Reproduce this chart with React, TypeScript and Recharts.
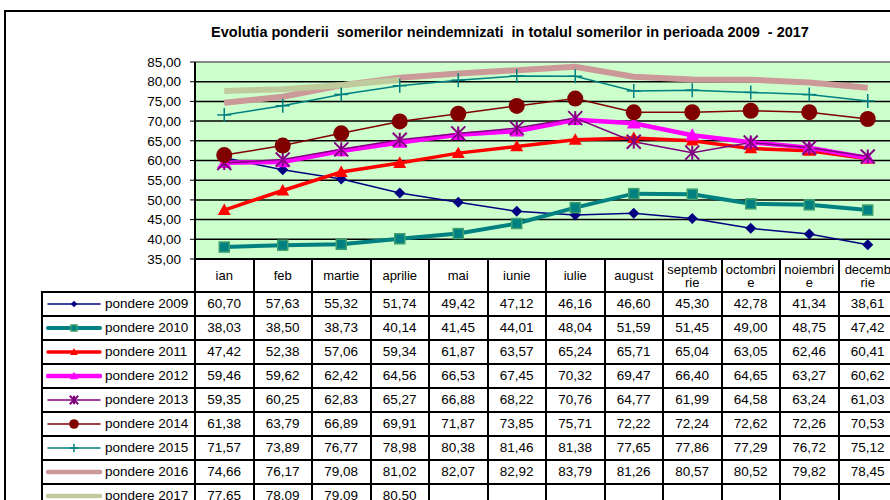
import React from 'react'
import { LineChart, Line, XAxis, YAxis, CartesianGrid, ReferenceLine } from 'recharts'

const months = ['ian', 'feb', 'martie', 'aprilie', 'mai', 'iunie', 'iulie', 'august', 'septembrie', 'octombrie', 'noiembrie', 'decembrie']
const yTicks = [35, 40, 45, 50, 55, 60, 65, 70, 75, 80, 85]

const p2009 = [60.7, 57.63, 55.32, 51.74, 49.42, 47.12, 46.16, 46.6, 45.3, 42.78, 41.34, 38.61]
const p2010 = [38.03, 38.5, 38.73, 40.14, 41.45, 44.01, 48.04, 51.59, 51.45, 49.0, 48.75, 47.42]
const p2011 = [47.42, 52.38, 57.06, 59.34, 61.87, 63.57, 65.24, 65.71, 65.04, 63.05, 62.46, 60.41]
const p2012 = [59.46, 59.62, 62.42, 64.56, 66.53, 67.45, 70.32, 69.47, 66.4, 64.65, 63.27, 60.62]
const p2013 = [59.35, 60.25, 62.83, 65.27, 66.88, 68.22, 70.76, 64.77, 61.99, 64.58, 63.24, 61.03]
const p2014 = [61.38, 63.79, 66.89, 69.91, 71.87, 73.85, 75.71, 72.22, 72.24, 72.62, 72.26, 70.53]
const p2015 = [71.57, 73.89, 76.77, 78.98, 80.38, 81.46, 81.38, 77.65, 77.86, 77.29, 76.72, 75.12]
const p2016 = [74.66, 76.17, 79.08, 81.02, 82.07, 82.92, 83.79, 81.26, 80.57, 80.52, 79.82, 78.45]
const p2017 = [77.65, 78.09, 79.09, 80.5]

type Shape = 'diamond' | 'square' | 'triangle' | 'star' | 'circle' | 'plus' | 'none'

interface Serie {
  key: string
  name: string
  values: number[]
  color: string
  width: number
  shape: Shape
  size: number
  markerStroke?: string
}

const series: Serie[] = [
  { key: 'p2009', name: 'pondere 2009', values: p2009, color: '#000080', width: 1.5, shape: 'diamond', size: 11 },
  { key: 'p2010', name: 'pondere 2010', values: p2010, color: '#008080', width: 4, shape: 'square', size: 10, markerStroke: '#3f9f6f' },
  { key: 'p2011', name: 'pondere 2011', values: p2011, color: '#ff0000', width: 3.5, shape: 'triangle', size: 13 },
  { key: 'p2012', name: 'pondere 2012', values: p2012, color: '#ff00ff', width: 4.5, shape: 'triangle', size: 14 },
  { key: 'p2013', name: 'pondere 2013', values: p2013, color: '#800080', width: 1.5, shape: 'star', size: 14 },
  { key: 'p2014', name: 'pondere 2014', values: p2014, color: '#800000', width: 1.5, shape: 'circle', size: 16 },
  { key: 'p2015', name: 'pondere 2015', values: p2015, color: '#008080', width: 1.5, shape: 'plus', size: 14 },
  { key: 'p2016', name: 'pondere 2016', values: p2016, color: '#cc9999', width: 6, shape: 'none', size: 0 },
  { key: 'p2017', name: 'pondere 2017', values: p2017, color: '#bfcb9c', width: 6, shape: 'none', size: 0 },
]

const data = months.map((month, i) => {
  const row: Record<string, any> = { month }
  series.forEach((s) => {
    row[s.key] = s.values[i]
  })
  return row
})

const fmt = (v: number) => v.toFixed(2).replace('.', ',')

const FONT = 'Arial, "Liberation Sans", sans-serif'
const PLOT_LEFT = 195
const COL_W = 58.5

function Marker({ cx, cy, shape, color, size, markerStroke }: { cx: number; cy: number; shape: Shape; color: string; size: number; markerStroke?: string }) {
  if (cx == null || cy == null || shape === 'none') return null
  const h = size / 2
  switch (shape) {
    case 'diamond':
      return <polygon points={`${cx},${cy - h} ${cx + h},${cy} ${cx},${cy + h} ${cx - h},${cy}`} fill={color} />
    case 'square':
      return <rect x={cx - h} y={cy - h} width={size} height={size} fill={color} stroke={markerStroke} strokeWidth={1.5} />
    case 'triangle':
      return <polygon points={`${cx},${cy - h} ${cx + h},${cy + h * 0.75} ${cx - h},${cy + h * 0.75}`} fill={color} />
    case 'circle':
      return <circle cx={cx} cy={cy} r={h} fill={color} />
    case 'plus':
      return (
        <g stroke={color} strokeWidth={1.5}>
          <line x1={cx - h} y1={cy} x2={cx + h} y2={cy} />
          <line x1={cx} y1={cy - h} x2={cx} y2={cy + h} />
        </g>
      )
    case 'star':
      return (
        <g stroke={color} strokeWidth={2}>
          <line x1={cx - h} y1={cy - h} x2={cx + h} y2={cy + h} />
          <line x1={cx - h} y1={cy + h} x2={cx + h} y2={cy - h} />
          <line x1={cx} y1={cy - h} x2={cx} y2={cy + h} />
        </g>
      )
    default:
      return null
  }
}

function LegendKey({ s }: { s: Serie }) {
  return (
    <svg width={56} height={14} style={{ display: 'block' }}>
      <line x1={2} y1={7} x2={54} y2={7} stroke={s.color} strokeWidth={Math.min(s.width, 4.5)} strokeLinecap="round" />
      <Marker cx={28} cy={7} shape={s.shape} color={s.color} size={s.size * 0.6} markerStroke={s.markerStroke} />
    </svg>
  )
}

const cell: React.CSSProperties = {
  border: '2px solid #000',
  padding: 0,
  textAlign: 'center',
  fontSize: 13.5,
  lineHeight: '14px',
  height: 22,
  overflow: 'hidden',
  whiteSpace: 'nowrap',
}

export default function App() {
  return (
    <div style={{ position: 'absolute', left: 0, top: 0, width: 890, height: 500, overflow: 'hidden', background: '#fff', fontFamily: FONT, color: '#000' }}>
      <div style={{ position: 'absolute', left: 4, top: 10, width: 1000, height: 600, borderLeft: '2px solid #000', borderTop: '2px solid #000' }} />
      <div style={{ position: 'absolute', left: 110, top: 24, width: 800, textAlign: 'center', fontWeight: 'bold', fontSize: 14.5 }}>
        Evolutia ponderii&nbsp; somerilor neindemnizati&nbsp; in totalul somerilor in perioada 2009&nbsp; - 2017
      </div>

      <div style={{ position: 'absolute', left: 0, top: 0 }}>
        <LineChart width={900} height={270} data={data} margin={{ top: 62, right: 3, bottom: 11, left: 0 }}>
          <CartesianGrid vertical={false} stroke="#000" strokeWidth={1.5} fill="#ccffcc" />
          <XAxis dataKey="month" scale="band" hide />
          <YAxis
            width={PLOT_LEFT}
            domain={[35, 85]}
            ticks={yTicks}
            interval={0}
            tickFormatter={fmt}
            tick={{ fontSize: 13.5, fill: '#000', fontFamily: FONT }}
            tickLine={{ stroke: '#000' }}
            tickSize={5}
            tickMargin={9}
            axisLine={{ stroke: '#000', strokeWidth: 2 }}
          />
          <ReferenceLine y={85} stroke="#888" strokeWidth={2} />
          {series.map((s) => (
            <Line
              key={s.key}
              dataKey={s.key}
              stroke={s.color}
              strokeWidth={s.width}
              isAnimationActive={false}
              dot={(p: any) => <Marker key={`${s.key}-${p.index}`} cx={p.cx} cy={p.cy} shape={s.shape} color={s.color} size={s.size} markerStroke={s.markerStroke} />}
              activeDot={false}
            />
          ))}
        </LineChart>
      </div>

      <table style={{ position: 'absolute', left: 41, top: 258, borderCollapse: 'collapse', tableLayout: 'fixed', width: 153 + COL_W * 12 }}>
        <colgroup>
          <col style={{ width: 153 }} />
          {months.map((m) => (
            <col key={m} style={{ width: COL_W }} />
          ))}
        </colgroup>
        <tbody>
          <tr>
            <td style={{ ...cell, border: 'none', height: 31 }} />
            {months.map((m) => (
              <td key={m} style={{ ...cell, height: 31, whiteSpace: 'normal', wordBreak: 'break-all', padding: '0 3px', fontSize: 13, lineHeight: '13px' }}>
                {m}
              </td>
            ))}
          </tr>
          {series.map((s) => (
            <tr key={s.key}>
              <td style={{ ...cell, textAlign: 'left' }}>
                <div style={{ display: 'flex', alignItems: 'center', paddingLeft: 3 }}>
                  <LegendKey s={s} />
                  <span style={{ marginLeft: 3 }}>{s.name}</span>
                </div>
              </td>
              {months.map((m, i) => (
                <td key={m} style={cell}>
                  {s.values[i] != null ? fmt(s.values[i]) : ''}
                </td>
              ))}
            </tr>
          ))}
        </tbody>
      </table>
    </div>
  )
}
